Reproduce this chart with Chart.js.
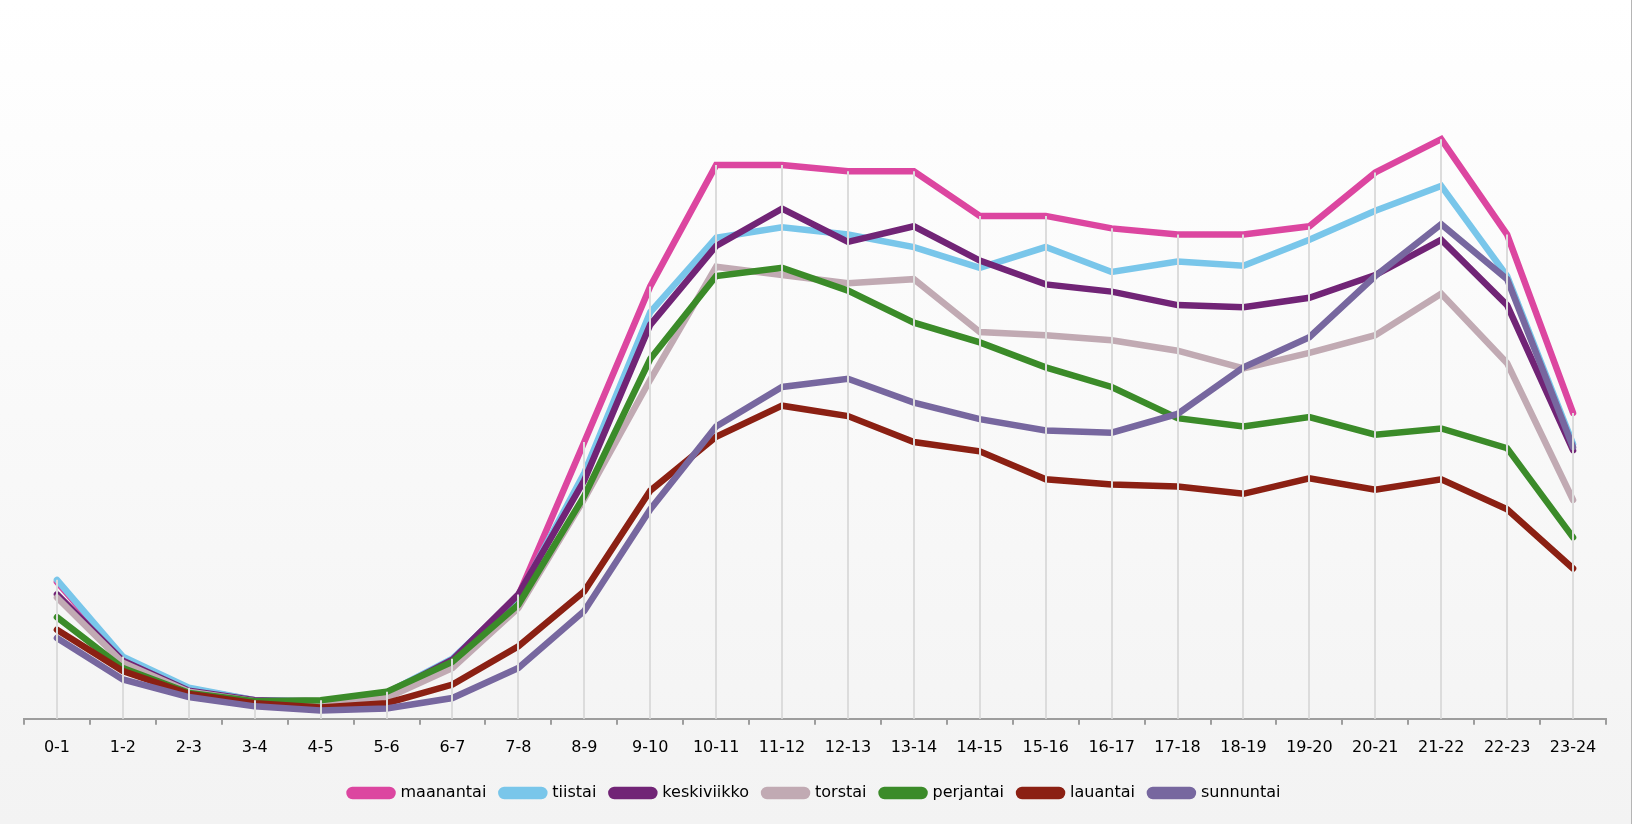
<!DOCTYPE html>
<html>
<head>
<meta charset="utf-8">
<script src="https://cdn.jsdelivr.net/npm/chart.js@4/dist/chart.umd.min.js"></script>
<style>
  html, body { margin: 0; padding: 0; }
  body {
    width: 1632px; height: 824px; overflow: hidden;
    background: linear-gradient(#ffffff, #f3f3f3);
  }
  #wrap { position: relative; width: 1632px; height: 824px; box-sizing: border-box; border-right: 1px solid #b5b5b5; }
</style>
</head>
<body>
<div id="wrap"><canvas id="chart" width="1631" height="824"></canvas></div>
<script>
// hours of the day
const hours = ["0-1","1-2","2-3","3-4","4-5","5-6","6-7","7-8","8-9","9-10","10-11","11-12",
               "12-13","13-14","14-15","15-16","16-17","17-18","18-19","19-20","20-21","21-22","22-23","23-24"];

// values (no y axis in the original, units are relative)
const maanantai   = [13.2, 5.9, 2.9, 1.8, 1.7, 2.5, 5.7, 11.9, 26.7, 41.7, 53.4, 53.4, 52.8, 52.8, 48.5, 48.5, 47.3, 46.7, 46.7, 47.5, 52.7, 55.9, 46.7, 29.5];
const tiistai     = [13.4, 6.0, 3.0, 1.8, 1.7, 2.5, 5.8, 11.8, 23.7, 39.2, 46.4, 47.4, 46.7, 45.5, 43.5, 45.5, 43.1, 44.1, 43.7, 46.2, 49.0, 51.4, 42.7, 26.5];
const keskiviikko = [12.0, 5.6, 2.7, 1.8, 1.6, 2.4, 5.7, 12.0, 23.0, 38.0, 45.6, 49.2, 46.0, 47.5, 44.2, 41.9, 41.2, 39.9, 39.7, 40.6, 42.8, 46.2, 39.9, 25.9];
const torstai     = [11.7, 5.4, 2.6, 1.7, 1.4, 2.0, 4.9, 10.7, 21.2, 32.7, 43.6, 42.8, 42.0, 42.4, 37.3, 37.0, 36.5, 35.5, 33.8, 35.3, 37.0, 41.0, 34.3, 21.1];
const perjantai   = [9.8, 4.9, 2.5, 1.7, 1.8, 2.6, 5.5, 11.0, 21.5, 34.7, 42.7, 43.5, 41.3, 38.2, 36.3, 33.9, 32.0, 29.0, 28.2, 29.1, 27.4, 28.0, 26.1, 17.5];
const lauantai    = [8.6, 4.6, 2.4, 1.5, 1.1, 1.5, 3.3, 7.0, 12.3, 22.0, 27.2, 30.2, 29.2, 26.7, 25.8, 23.1, 22.6, 22.4, 21.7, 23.2, 22.1, 23.1, 20.2, 14.5];
const sunnuntai   = [7.8, 3.8, 2.1, 1.2, 0.8, 1.0, 2.0, 4.9, 10.4, 20.2, 28.2, 32.0, 32.8, 30.5, 28.9, 27.8, 27.6, 29.4, 33.9, 36.8, 42.7, 47.7, 42.4, 26.2];

const dayNames  = ["maanantai","tiistai","keskiviikko","torstai","perjantai","lauantai","sunnuntai"];
const dayValues = [maanantai, tiistai, keskiviikko, torstai, perjantai, lauantai, sunnuntai];
const dayColors = ["#dc46a0","#79c6ea","#712476","#c1aab3","#3b8b29","#8b2013","#77679f"];

// vertical drop lines from the highest point of each hour down to the axis
const dropLines = {
  id: 'dropLines',
  afterDatasetsDraw(chart) {
    const ctx = chart.ctx;
    const xs = chart.scales.x, ys = chart.scales.y;
    ctx.save();
    ctx.strokeStyle = '#dcdcdc';
    ctx.lineWidth = 2;
    for (let i = 0; i < hours.length; i++) {
      let top = Math.max(...chart.data.datasets.map(d => d.data[i]));
      let px = Math.round(xs.getPixelForValue(i));
      ctx.beginPath();
      ctx.moveTo(px, ys.getPixelForValue(top));
      ctx.lineTo(px, chart.chartArea.bottom);
      ctx.stroke();
    }
    ctx.restore();
  }
};

const datasets = dayNames.map((name, i) => ({
  label: name,
  data: dayValues[i],
  borderColor: dayColors[i],
  backgroundColor: dayColors[i],
  borderWidth: 6.5,
  borderCapStyle: 'round',
  borderJoinStyle: 'miter',
  pointRadius: 0,
  tension: 0,
  order: -i   // later days are drawn on top
}));

new Chart(document.getElementById('chart'), {
  type: 'line',
  data: { labels: hours, datasets: datasets },
  plugins: [dropLines],
  options: {
    responsive: false,
    animation: false,
    devicePixelRatio: 1,
    layout: { padding: { top: 21, left: 24, right: 25, bottom: 13 } },
    scales: {
      x: {
        offset: true,
        grid: { offset: true, drawOnChartArea: false, tickLength: 6, color: '#9d9d9d', lineWidth: 2 },
        border: { display: true, color: '#9d9d9d', width: 2 },
        ticks: { color: '#000', font: { family: 'DejaVu Sans', size: 16 }, padding: 13, maxRotation: 0, autoSkip: false }
      },
      y: { display: false, min: 0, max: 67.3 }
    },
    plugins: {
      legend: {
        position: 'bottom',
        labels: {
          boxWidth: 43, boxHeight: 6,
          useBorderRadius: true, borderRadius: 3,
          padding: 15,
          color: '#000',
          font: { family: 'DejaVu Sans', size: 16 },
          sort: (a, b) => a.datasetIndex - b.datasetIndex
        }
      },
      tooltip: { enabled: false }
    }
  }
});
</script>
</body>
</html>
